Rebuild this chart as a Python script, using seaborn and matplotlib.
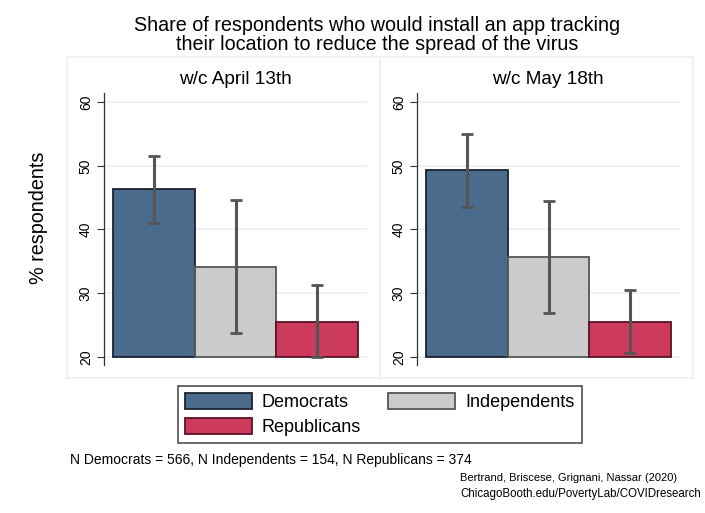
import numpy as np
import pandas as pd
import seaborn as sns
import matplotlib.pyplot as plt
from matplotlib.patches import Rectangle, Patch

sns.set_style("white")
plt.rcParams["font.family"] = ["Liberation Sans", "DejaVu Sans"]
plt.rcParams["text.color"] = "black"
plt.rcParams["ytick.color"] = "black"

# data
PARTIES = ["Democrats", "Independents", "Republicans"]
PANELS = ["w/c April 13th", "w/c May 18th"]
SHARE_APR = [46.3, 34.1, 25.5]
LO_APR = [41.0, 23.8, 20.0]
HI_APR = [51.6, 44.6, 31.2]
SHARE_MAY = [49.3, 35.7, 25.5]
LO_MAY = [43.6, 26.9, 20.6]
HI_MAY = [55.0, 44.5, 30.5]
YTICKS = [20, 30, 40, 50, 60]
N_NOTE = "N Democrats = 566, N Independents = 154, N Republicans = 374"

FILL = ["#4a6b8c", "#cbcbcb", "#cc3a5c"]
EDGE = ["#1b2330", "#555555", "#5a1428"]
GRID = "#eaf1f3"
BASE = 20

W, H = 705, 513
fig = plt.figure(figsize=(W / 100, H / 100), dpi=100)
fig.patch.set_facecolor("white")


def px_axes(x0, y0, x1, y1):
    return fig.add_axes([x0 / W, 1 - y1 / H, (x1 - x0) / W, (y1 - y0) / H])


# panel frames
for bx0, bx1 in [(67, 380), (380, 693)]:
    fig.patches.append(Rectangle((bx0 / W, 1 - 378 / H), (bx1 - bx0) / W, (378 - 57) / H,
                                 transform=fig.transFigure, fill=False,
                                 edgecolor=GRID, linewidth=1.2, zorder=0))

data = [(SHARE_APR, LO_APR, HI_APR), (SHARE_MAY, LO_MAY, HI_MAY)]
for i, (name, (vals, lo, hi)) in enumerate(zip(PANELS, data)):
    ax0 = 104 if i == 0 else 417
    ax = px_axes(ax0, 93, ax0 + 263, 365)
    df = pd.DataFrame({"party": PARTIES, "share": vals})
    sns.barplot(data=df, x="party", y="share", hue="party", palette=FILL,
                saturation=1, width=1.0, legend=False, ax=ax, linewidth=1.3, zorder=3)
    for p, ec in zip(ax.patches, EDGE):
        p.set_edgecolor(ec)
        p.set_y(BASE)
        p.set_height(p.get_height() - BASE)
    x = np.arange(len(PARTIES))
    v = np.array(vals)
    ax.errorbar(x, v, yerr=[v - np.array(lo), np.array(hi) - v], fmt="none",
                ecolor="#555555", elinewidth=2.2, capsize=4, capthick=2, zorder=4)
    ax.set_xlim(-0.61, 2.61)
    ax.set_ylim(18.7, 61.45)
    ax.set_yticks(YTICKS)
    ax.set_yticklabels([str(t) for t in YTICKS], rotation=90, va="center", fontsize=10)
    ax.tick_params(axis="y", length=5, width=0.8, color="#333333", pad=3, left=True)
    ax.set_xticks([])
    ax.set_xlabel("")
    ax.set_ylabel("")
    for yt in YTICKS:
        ax.axhline(yt, color=GRID, linewidth=1.2, zorder=1)
    for s in ["top", "right", "bottom"]:
        ax.spines[s].set_visible(False)
    ax.spines["left"].set_color("#333333")
    ax.spines["left"].set_linewidth(0.9)
    ax.set_facecolor("none")
    fig.text((ax0 + 131) / W, 1 - 80 / H, name, ha="center", va="center", fontsize=13.7)

fig.text(377 / W, 1 - 35 / H,
         "Share of respondents who would install an app tracking\ntheir location to reduce the spread of the virus",
         ha="center", va="center", fontsize=14.2, linespacing=1.05)
fig.text(39 / W, 1 - 218 / H, "% respondents", rotation=90, ha="center", va="center", fontsize=14.2)

# legend fills row-wise in the reference: reorder for column-major layout
handles = [Patch(facecolor=f, edgecolor=e, linewidth=1.3) for f, e in zip(FILL, EDGE)]
order = [0, 2, 1]
leg = fig.legend([handles[k] for k in order], [PARTIES[k] for k in order], ncol=2,
                 loc="upper left", bbox_to_anchor=(178 / W, 1 - 386 / H), fontsize=13,
                 frameon=True, fancybox=False, edgecolor="#222222",
                 handlelength=3.7, handleheight=1.0, columnspacing=1.5,
                 handletextpad=0.55, labelspacing=0.35, borderpad=0.4, borderaxespad=0)
leg.get_frame().set_linewidth(1.2)

fig.text(70 / W, 1 - 460 / H, N_NOTE, ha="left", va="center", fontsize=10)
fig.text(460 / W, 1 - 478 / H, "Bertrand, Briscese, Grignani, Nassar (2020)",
         ha="left", va="center", fontsize=8)
fig.text(460 / W, 1 - 494 / H, "ChicagoBooth.edu/PovertyLab/COVIDresearch",
         ha="left", va="center", fontsize=8.3)

fig.savefig("out.png", dpi=100)
